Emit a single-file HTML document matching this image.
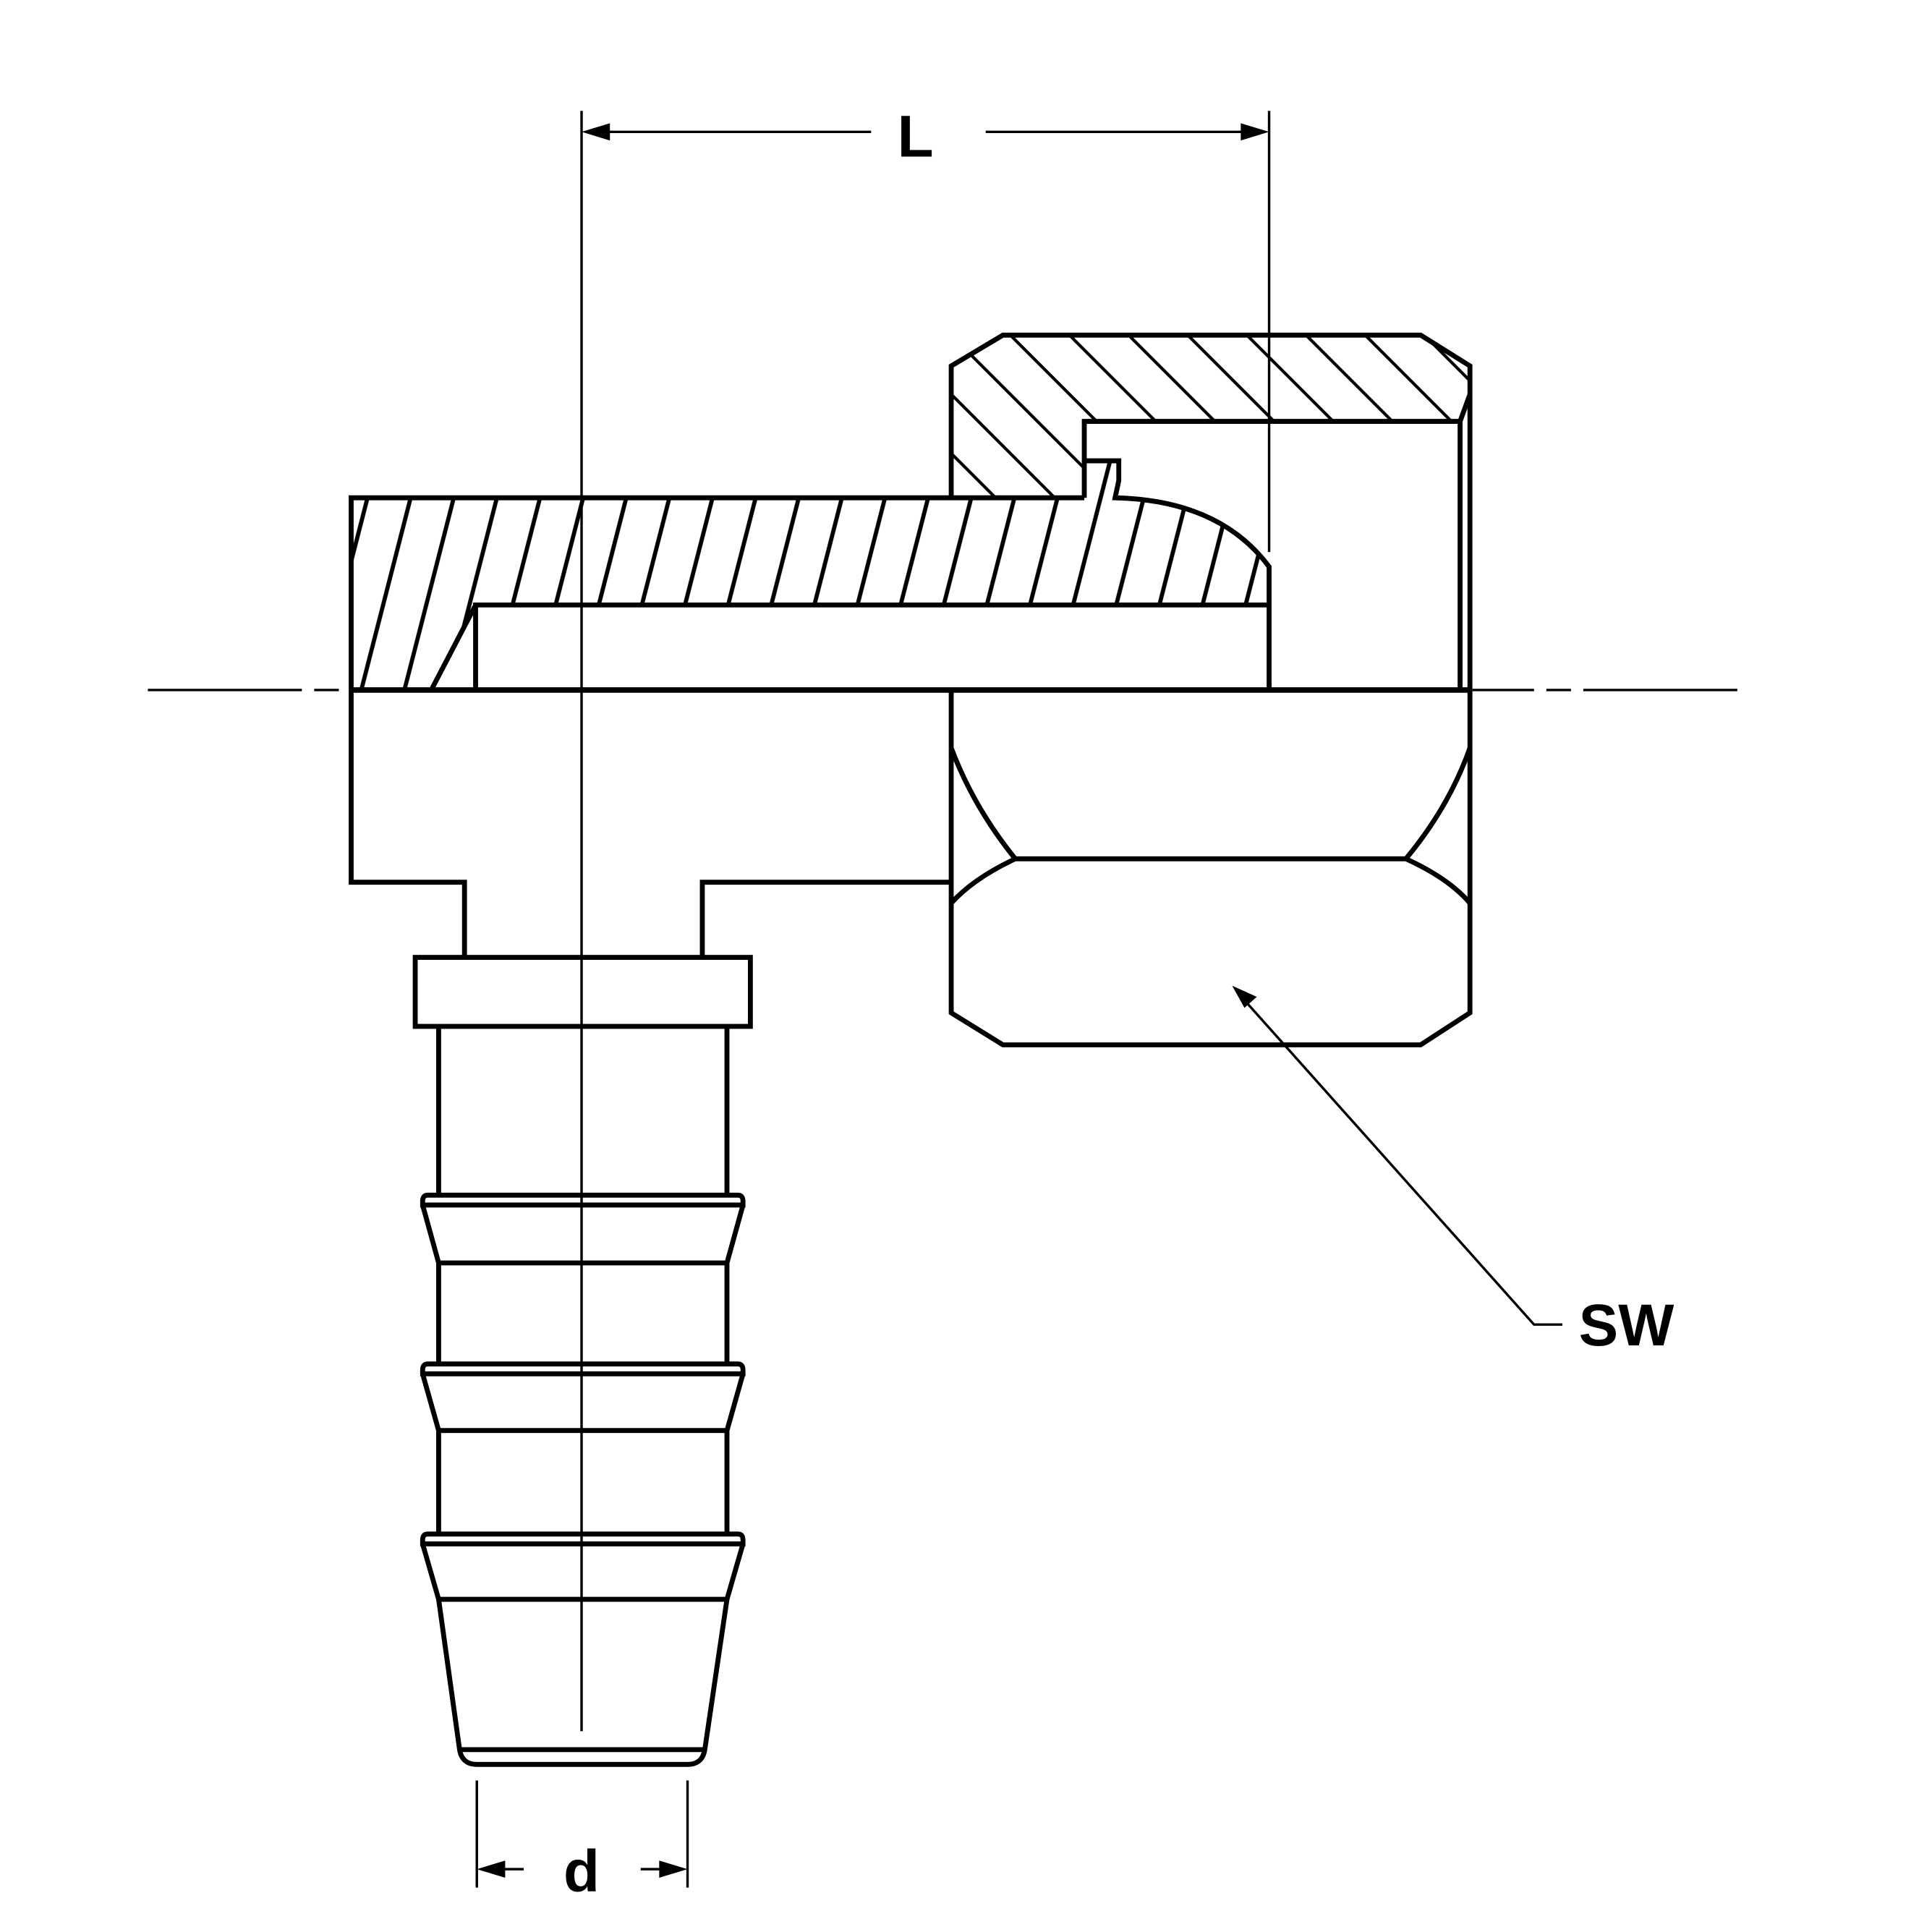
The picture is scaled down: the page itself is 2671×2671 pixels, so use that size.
<!DOCTYPE html>
<html><head><meta charset="utf-8"><style>html,body{margin:0;padding:0;background:#fff}svg{display:block}</style></head>
<body>
<svg width="2671" height="2671" viewBox="0 0 1568 1568" xmlns="http://www.w3.org/2000/svg">
<defs>
<pattern id="hb" patternUnits="userSpaceOnUse" width="35" height="200" patternTransform="skewX(-14.4)">
<line x1="17" y1="-10" x2="17" y2="210" stroke="#000" stroke-width="3.5"/>
</pattern>
<pattern id="hn" patternUnits="userSpaceOnUse" width="48" height="200" patternTransform="skewX(45)">
<line x1="20" y1="-10" x2="20" y2="210" stroke="#000" stroke-width="3.5"/>
</pattern>
</defs>
<rect width="1568" height="1568" fill="#fff"/>
<path d="M285,404 L880,404 L880,374 L908,374 L908,390 L905,404 Q990,406 1030,460 L1030,491 L386,491 L350,560 L285,560 Z" fill="url(#hb)"/>
<path d="M772,297 L814,272 L1153,272 L1193,297 L1193,320 L1185,342 L880,342 L880,404 L772,404 Z" fill="url(#hn)"/>
<g fill="none" stroke="#000" stroke-width="4" stroke-linejoin="miter">
<path d="M285,560 L285,404 L880,404 M880,374 L908,374 L908,390 L905,404 Q990,406 1030,460 L1030,560"/>
<path d="M386,560 L386,491 L1030,491 M386,491 L350,560"/>
<path d="M772,404 L772,297 L814,272 L1153,272 L1193,297 L1193,560"/>
<path d="M880,404 L880,342 L1185,342 L1185,560 M1193,320 L1185,342"/>
<path d="M285,560 L1193,560" stroke-width="4.5"/>
<path d="M285,560 L285,716 L377,716 L377,777 M570,777 L570,716 L772,716"/>
<path d="M772,560 L772,822 L814,848 L1153,848 L1193,822 L1193,560"/>
<path d="M824,697 L1141,697 M772,607 Q790,655 824,697 M1193,607 Q1176,655 1141,697 M824,697 Q790,713 772,733 M1141,697 Q1176,713 1193,733"/>
<rect x="337" y="777" width="272" height="56"/>
<path d="M356,833 L356,970 M590,833 L590,970"/>
<path d="M347,970 L599,970 Q603,970 603,975 L603,978 L343,978 L343,975 Q343,970 347,970 Z"/>
<path d="M343,978 L356,1025 L590,1025 L603,978 M356,1025 L356,1107 M590,1025 L590,1107"/>
<path d="M347,1107 L599,1107 Q603,1107 603,1112 L603,1115 L343,1115 L343,1112 Q343,1107 347,1107 Z"/>
<path d="M343,1115 L356,1161 L590,1161 L603,1115 M356,1161 L356,1245 M590,1161 L590,1245"/>
<path d="M347,1245 L599,1245 Q603,1245 603,1250 L603,1253 L343,1253 L343,1250 Q343,1245 347,1245 Z"/>
<path d="M343,1253 L356,1298 L590,1298 L603,1253"/>
<path d="M356,1298 L373,1420 Q375,1432 387,1432 L558,1432 Q570,1432 572,1420 L590,1298 M373,1420 L572,1420"/>
</g>
<g fill="none" stroke="#000" stroke-width="2">
<path d="M120,560 L245,560 M255,560 L275,560 M1195,560 L1245,560 M1255,560 L1275,560 M1285,560 L1410,560"/>
<path d="M472,90 L472,1405"/>
<path d="M1030,90 L1030,448 M490,107 L707,107 M800,107 L1012,107"/>
<path d="M387,1445 L387,1532 M558,1445 L558,1532 M405,1517 L425,1517 M520,1517 L540,1517"/>
<path d="M1012,814 L1245,1075 L1268,1075"/>
</g>
<g fill="#000">
<polygon points="472,107 495,100 495,114"/>
<polygon points="1030,107 1007,100 1007,114"/>
<polygon points="387,1517 410,1510 410,1524"/>
<polygon points="558,1517 535,1510 535,1524"/>
<polygon points="1000,800 1020,809 1010,818"/>
</g>
<g font-family="Liberation Sans, sans-serif" font-weight="bold" font-size="48" fill="#000" text-anchor="middle">
<text x="743" y="127">L</text>
<text x="472" y="1535">d</text>
<text x="1320" y="1092">SW</text>
</g>
</svg>
</body></html>
